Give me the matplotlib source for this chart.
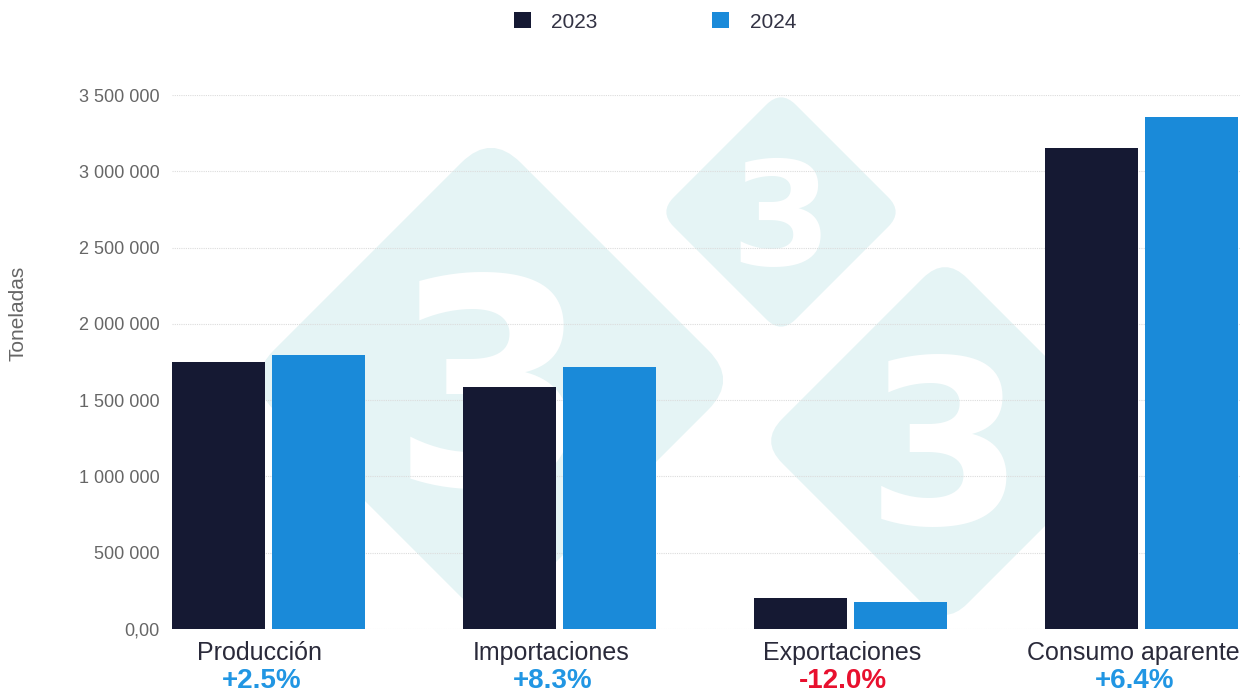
import matplotlib
matplotlib.use("Agg")
import matplotlib.pyplot as plt
from matplotlib.patches import FancyBboxPatch, Patch
from matplotlib.ticker import FuncFormatter, MultipleLocator
from matplotlib.transforms import Affine2D
import numpy as np

plt.rcParams['font.family'] = ['Liberation Sans', 'DejaVu Sans']

# datos (toneladas)
categorias = ['Producción', 'Importaciones', 'Exportaciones', 'Consumo aparente']
v2023 = [1750000, 1586000, 203000, 3152000]
v2024 = [1796000, 1717000, 178000, 3355000]
variacion = ['+2.5%', '+8.3%', '-12.0%', '+6.4%']
anios = ['2023', '2024']

c23 = '#151933'
c24 = '#1a8ad9'
azul_txt = '#2196e3'
rojo_txt = '#e8102e'

W, H = 1244, 694
fig = plt.figure(figsize=(W / 100, H / 100), dpi=100)
ax = fig.add_axes([172 / W, 1 - 629 / H, (1240 - 172) / W, (629 - 95) / H])

# marca de agua (rombos con "3"), en pixeles
def rombo(cx, cy, half, digit_h):
    s = half * np.sqrt(2) / 100
    t = Affine2D().rotate_deg(45).translate(cx / 100, (H - cy) / 100) + fig.dpi_scale_trans
    p = FancyBboxPatch((-s / 2, -s / 2), s, s,
                       boxstyle="round,pad=0,rounding_size=%f" % (s * 0.12),
                       transform=t, facecolor='#e5f4f5', edgecolor='none',
                       zorder=0.2, clip_on=False)
    ax.add_patch(p)
    em_px = digit_h / 0.729
    pt = em_px / (100 / 72)
    ax.text(cx / 100, (H - cy - digit_h / 2) / 100, '3', transform=fig.dpi_scale_trans,
            fontsize=pt, fontweight='bold', color='white',
            family='DejaVu Sans', ha='center', va='baseline', zorder=0.3)

rombo(491, 380, 247, 210)
rombo(781, 212, 122, 106)
rombo(945, 441, 185, 166)

x = np.arange(len(categorias))
w = 0.32
gap = 0.024
ax.bar(x - (w + gap) / 2, v2023, w, color=c23, zorder=2)
ax.bar(x + (w + gap) / 2, v2024, w, color=c24, zorder=2)

ax.set_xlim(-0.332, 3.338)
ax.set_ylim(0, 3500000)
ax.yaxis.set_major_locator(MultipleLocator(500000))

def fmt(v, pos):
    if v == 0:
        return '0,00'
    return '{:,.0f}'.format(v).replace(',', ' ')

ax.yaxis.set_major_formatter(FuncFormatter(fmt))
ax.tick_params(axis='y', length=0, pad=9, labelsize=13, labelcolor='#666666')
ax.set_xticks([])
ax.grid(axis='y', color='#dcdcdc', linestyle=(0, (1, 1)), linewidth=0.8, zorder=0.5)
ax.set_axisbelow(True)
ax.patch.set_alpha(0)
for s in ax.spines.values():
    s.set_visible(False)

for i, (cat, var) in enumerate(zip(categorias, variacion)):
    ax.text(i - 0.03, -0.045, cat, transform=ax.get_xaxis_transform(),
            ha='center', va='center', fontsize=18, color='#2a2a3a')
    col = rojo_txt if var.startswith('-') else azul_txt
    ax.text(i - 0.025, -0.098, var, transform=ax.get_xaxis_transform(),
            ha='center', va='center', fontsize=20, fontweight='bold', color=col)

fig.text(18 / W, 1 - 313 / H, 'Toneladas', rotation=90, ha='center', va='center',
         fontsize=15, color='#666666')

handles = [Patch(facecolor=c23), Patch(facecolor=c24)]
fig.legend(handles, anios, loc='center', bbox_to_anchor=(655 / W, 1 - 22 / H), ncol=2,
           frameon=False, fontsize=15, labelcolor='#333344', handlelength=0.8,
           handleheight=0.8, handletextpad=1.0, columnspacing=5.5)

fig.savefig('out.png', dpi=100)
